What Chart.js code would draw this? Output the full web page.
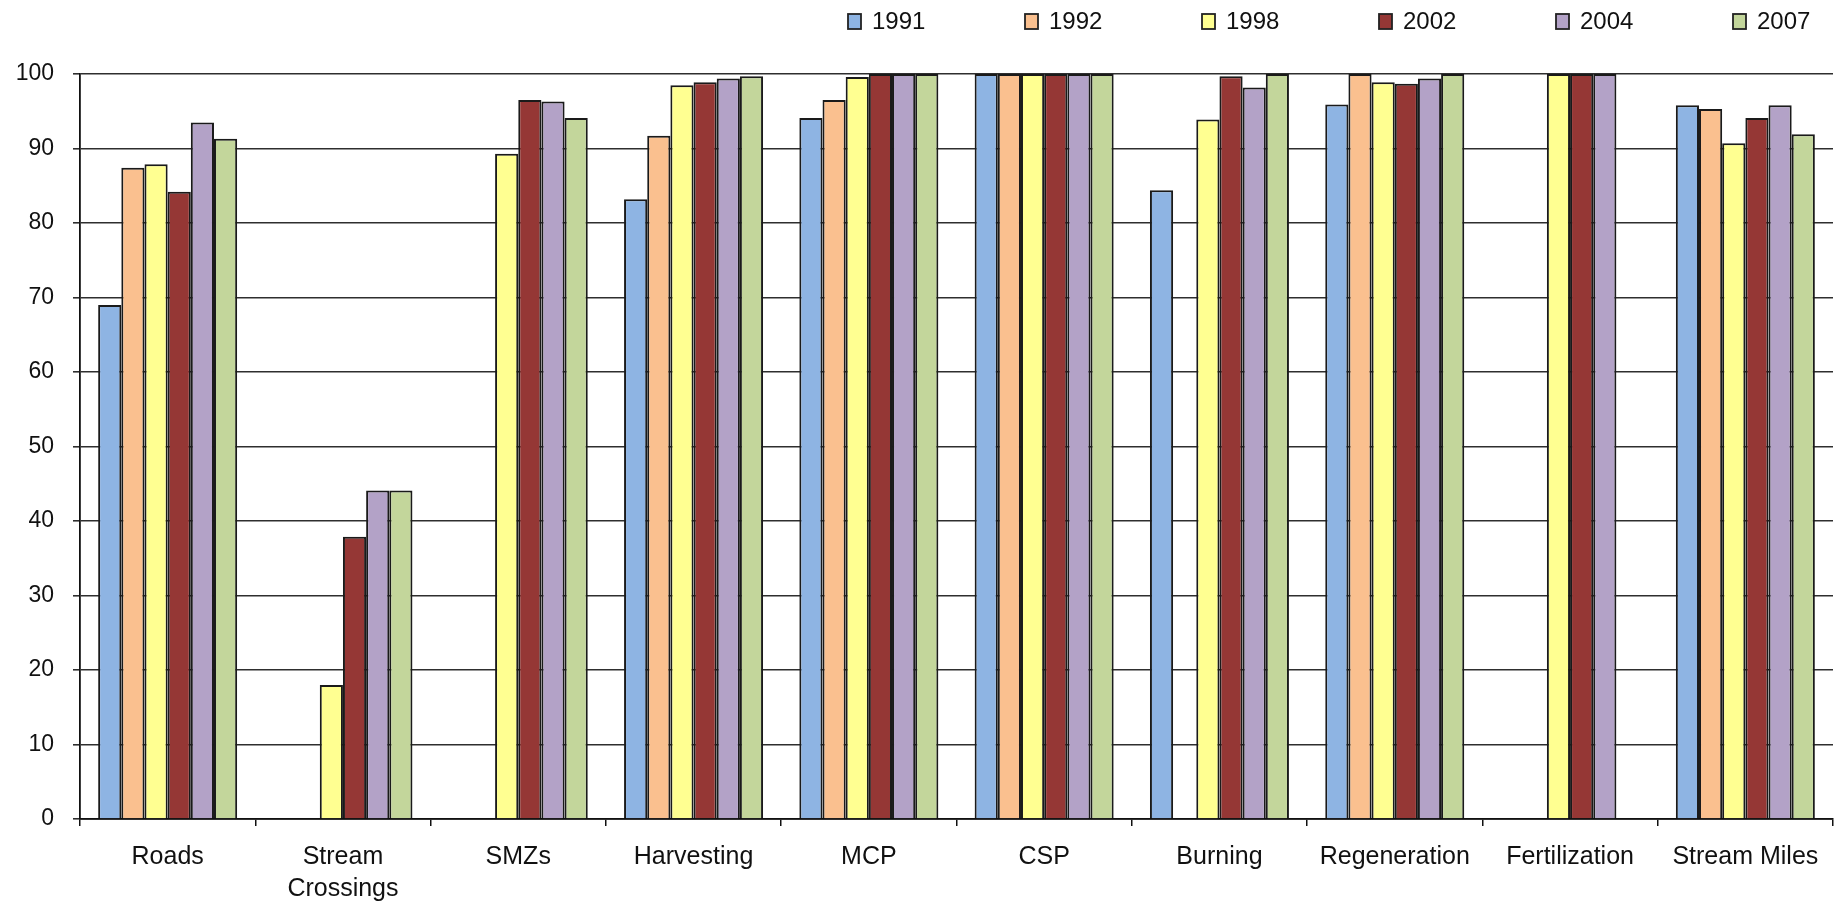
<!DOCTYPE html>
<html><head><meta charset="utf-8">
<script src="https://cdn.jsdelivr.net/npm/chart.js@4.4.0/dist/chart.umd.min.js"></script>
<style>html,body{margin:0;padding:0;background:#fff;} #wrap{width:1848px;height:905px;position:relative;}</style>
</head><body><div id="wrap"><canvas id="c"></canvas></div>
<script>
const categories = ['Roads', ['Stream', 'Crossings'], 'SMZs', 'Harvesting', 'MCP', 'CSP', 'Burning', 'Regeneration', 'Fertilization', 'Stream Miles'];
const years = ['1991', '1992', '1998', '2002', '2004', '2007'];
const v1991 = [69.0, null, null, 83.2, 94.1, 100, 84.4, 95.9, null, 95.8];
const v1992 = [87.4, null, null, 91.7, 96.5, 100, null, 100, null, 95.3];
const v1998 = [87.9, 18.0, 89.3, 98.5, 99.6, 100, 93.9, 98.9, 100, 90.7];
const v2002 = [84.2, 37.9, 96.5, 98.9, 100, 100, 99.7, 98.7, 100, 94.1];
const v2004 = [93.5, 44.1, 96.3, 99.4, 100, 100, 98.2, 99.4, 100, 95.8];
const v2007 = [91.3, 44.1, 94.1, 99.7, 100, 100, 100, 100, null, 91.9];
const yTickValues = [0, 10, 20, 30, 40, 50, 60, 70, 80, 90, 100];
const seriesValues = [v1991, v1992, v1998, v2002, v2004, v2007];
const seriesColors = ['#8EB4E3', '#FAC08F', '#FFFF91', '#953735', '#B3A2C7', '#C3D69B'];

const FONT = '"Liberation Sans", Arial, sans-serif';
const TEXT = '#111';

const legendPlugin = {
  id: 'customLegend',
  afterDraw(chart) {
    const ctx = chart.ctx;
    ctx.save();
    chart.data.datasets.forEach((ds, i) => {
      const x = 848 + i * 177;
      ctx.fillStyle = ds.backgroundColor;
      ctx.fillRect(x, 14, 13, 15);
      ctx.strokeStyle = '#222';
      ctx.lineWidth = 1.8;
      ctx.strokeRect(x, 14, 13, 15);
      ctx.fillStyle = TEXT;
      ctx.font = '24px ' + FONT;
      ctx.textBaseline = 'middle';
      ctx.textAlign = 'left';
      ctx.fillText(ds.label, x + 24, 22);
    });
    ctx.restore();
  }
};

new Chart(document.getElementById('c'), {
  type: 'bar',
  data: {
    labels: categories,
    datasets: years.map((y, i) => ({
      label: y,
      data: seriesValues[i],
      backgroundColor: seriesColors[i],
      borderColor: '#1a1a1a',
      borderWidth: 2,
      categoryPercentage: 0.793,
      barPercentage: 1.0
    }))
  },
  options: {
    responsive: true,
    maintainAspectRatio: false,
    animation: false,
    devicePixelRatio: 1,
    layout: { padding: { top: 74, right: 15, left: 0, bottom: 0 } },
    plugins: { legend: { display: false }, tooltip: { enabled: false } },
    scales: {
      x: {
        offset: true,
        grid: { display: true, drawOnChartArea: false, drawTicks: true, tickLength: 7, color: '#111', lineWidth: 1.5, offset: true },
        border: { display: true, color: '#111', width: 1.8 },
        ticks: { font: { family: FONT, size: 25, lineHeight: 1.28 }, color: TEXT, padding: 15, maxRotation: 0, autoSkip: false },
        afterFit: s => { s.height = 86; }
      },
      y: {
        min: 0, max: 100,
        afterBuildTicks: s => { s.ticks = yTickValues.map(v => ({ value: v })); },
        grid: { color: '#2e2e2e', lineWidth: 1.6, tickLength: 7, drawTicks: true },
        border: { display: true, color: '#111', width: 1.8 },
        ticks: { font: { family: FONT, size: 23 }, color: TEXT, padding: 19 },
        afterFit: s => { s.width = 80; }
      }
    }
  },
  plugins: [legendPlugin]
});
</script>
</body></html>
